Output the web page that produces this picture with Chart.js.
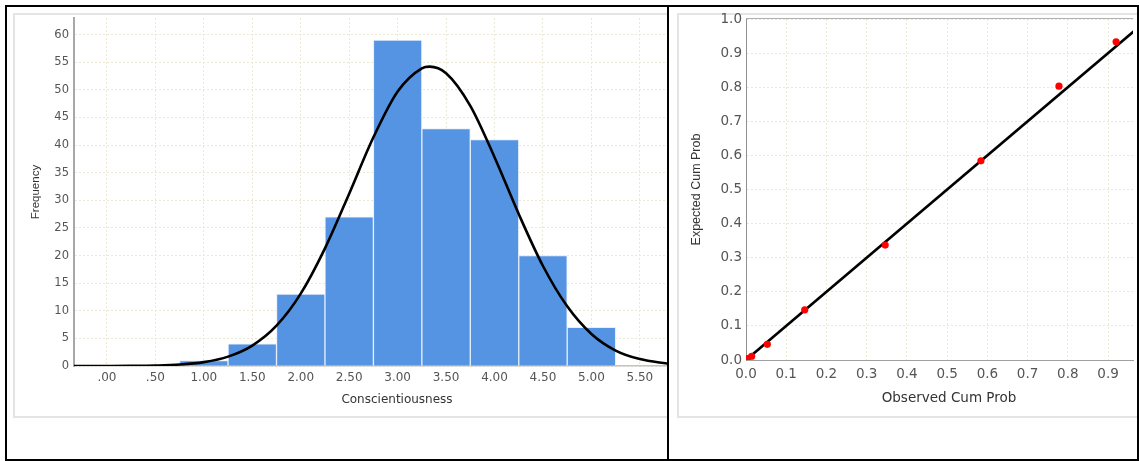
<!DOCTYPE html>
<html>
<head>
<meta charset="utf-8">
<script src="https://cdn.jsdelivr.net/npm/chart.js@4.4.0/dist/chart.umd.min.js"></script>
<style>
    body { margin: 0; background: #fff; width: 1139px; height: 461px; overflow: hidden; position: relative; }
    .frame { position: absolute; left: 5px; top: 5px; width: 1134px; height: 456px; border: 2px solid #000; box-sizing: border-box; }
    .divider { position: absolute; left: 667px; top: 5px; width: 2px; height: 456px; background: #000; }
    .panel { position: absolute; top: 13px; height: 405px; border: 2px solid #e4e4e4; border-right: none; box-sizing: border-box; background: #fff; }
    #leftPanel { left: 13px; width: 654px; }
    #rightPanel { left: 677px; width: 460px; }
    canvas { position: absolute; }
    #histChart { left: 15px; top: 7px; }
    #ppChart { left: 679px; top: 7px; }
</style>
</head>
<body>
<div class="frame"></div>
<div class="divider"></div>
<div class="panel" id="leftPanel"></div>
<div class="panel" id="rightPanel"></div>
<canvas id="histChart" width="652" height="409"></canvas>
<canvas id="ppChart" width="458" height="409"></canvas>

<script>
// Histogram data (bin centres, bin width .50)
const binCenters = [1.0, 1.5, 2.0, 2.5, 3.0, 3.5, 4.0, 4.5, 5.0];
const frequencies = [1, 4, 13, 27, 59, 43, 41, 20, 7];

// Normal curve
const curveX = [-0.35, 0, 0.25, 0.5, 0.75, 1.0, 1.25, 1.5, 1.75, 2.0, 2.25, 2.5, 2.75, 3.0, 3.25, 3.33, 3.5, 3.75, 4.0, 4.25, 4.5, 4.75, 5.0, 5.25, 5.5, 5.8];
const curveY = [0, 0.01, 0.03, 0.09, 0.26, 0.7, 1.7, 3.7, 7.3, 13.1, 21.3, 31.2, 41.4, 49.7, 53.9, 54.2, 53.0, 47.1, 37.8, 27.5, 18.1, 10.8, 5.8, 2.8, 1.25, 0.4];

const histXTicks = [0, 0.5, 1.0, 1.5, 2.0, 2.5, 3.0, 3.5, 4.0, 4.5, 5.0, 5.5];
const histXLabels = ['.00', '.50', '1.00', '1.50', '2.00', '2.50', '3.00', '3.50', '4.00', '4.50', '5.00', '5.50'];
const histYTicks = [0, 5, 10, 15, 20, 25, 30, 35, 40, 45, 50, 55, 60];

// P-P plot data
const ppObserved = [0.004, 0.014, 0.053, 0.146, 0.346, 0.584, 0.778, 0.920];
const ppExpected = [0.004, 0.011, 0.046, 0.147, 0.337, 0.584, 0.803, 0.933];
const refLine = [0, 1];
const ppXTicks = [0, 0.1, 0.2, 0.3, 0.4, 0.5, 0.6, 0.7, 0.8, 0.9];
const ppYTicks = [0, 0.1, 0.2, 0.3, 0.4, 0.5, 0.6, 0.7, 0.8, 0.9, 1.0];

const gridColor = '#ece8d2';
const tickColor = '#555';

function setTicks(values) {
    return function(scale) {
        scale.ticks = values.map(v => ({ value: v }));
    };
}

function fixSize(prop, size) {
    return function(scale) {
        scale[prop] = size;
        scale.paddingTop = 0;
        scale.paddingBottom = 0;
        scale.paddingLeft = 0;
        scale.paddingRight = 0;
    };
}

// x axis title, SPSS puts it a bit right of the plot centre
const xTitle = {
    id: 'xTitle',
    afterDraw(chart, args, opts) {
        const ctx = chart.ctx;
        ctx.save();
        ctx.fillStyle = '#333';
        ctx.font = opts.font;
        ctx.textAlign = 'center';
        ctx.textBaseline = 'middle';
        ctx.fillText(opts.text, opts.x, opts.y);
        ctx.restore();
    }
};

// 1. Histogram
new Chart(document.getElementById('histChart'), {
    type: 'bar',
    data: {
        datasets: [{
            type: 'line',
            data: curveX.map((x, i) => ({ x: x, y: curveY[i] })),
            borderColor: '#000',
            borderWidth: 2.6,
            pointRadius: 0,
            cubicInterpolationMode: 'monotone',
            order: 0
        }, {
            type: 'bar',
            data: binCenters.map((x, i) => ({ x: x, y: frequencies[i] })),
            backgroundColor: '#5594e3',
            borderColor: '#e6eefa',
            borderWidth: 1,
            barPercentage: 1,
            categoryPercentage: 1,
            order: 1
        }]
    },
    options: {
        responsive: false,
        animation: false,
        devicePixelRatio: 1,
        layout: { padding: { top: 11, left: 0, right: 0, bottom: 0 } },
        plugins: {
            legend: { display: false },
            tooltip: { enabled: false },
            xTitle: { text: 'Conscientiousness', x: 382, y: 393, font: '12px "DejaVu Sans"' }
        },
        scales: {
            x: {
                type: 'linear',
                min: -0.34,
                max: 5.78,
                offset: false,
                afterBuildTicks: setTicks(histXTicks),
                afterFit: fixSize('height', 50),
                grid: { color: gridColor, drawTicks: false, offset: false },
                border: { color: '#c4c4c4', width: 1.5, dash: [2, 2] },
                ticks: {
                    padding: 5,
                    color: tickColor,
                    font: { family: 'DejaVu Sans', size: 12 },
                    callback: (v, i) => histXLabels[i]
                }
            },
            y: {
                min: 0,
                max: 63,
                afterBuildTicks: setTicks(histYTicks),
                afterFit: fixSize('width', 59),
                grid: { color: gridColor, drawTicks: false },
                border: { color: '#a8a8a8', width: 2, dash: [2, 2] },
                ticks: {
                    padding: 5,
                    color: tickColor,
                    font: { family: 'DejaVu Sans', size: 11.5 }
                },
                title: {
                    display: true,
                    text: 'Frequency',
                    color: '#333',
                    font: { family: 'Liberation Sans', size: 11.5 },
                    padding: { top: 14, bottom: 0 }
                }
            }
        }
    },
    plugins: [xTitle]
});

// 2. P-P plot
const topLine = {
    id: 'topLine',
    afterDraw(chart) {
        const { ctx, chartArea } = chart;
        ctx.save();
        ctx.strokeStyle = '#b0b0b0';
        ctx.lineWidth = 1;
        ctx.beginPath();
        ctx.moveTo(chartArea.left, chartArea.top - 0.5);
        ctx.lineTo(chartArea.right, chartArea.top - 0.5);
        ctx.stroke();
        ctx.restore();
    }
};

new Chart(document.getElementById('ppChart'), {
    type: 'scatter',
    data: {
        datasets: [{
            data: ppObserved.map((x, i) => ({ x: x, y: ppExpected[i] })),
            backgroundColor: '#ff0000',
            borderWidth: 0,
            pointRadius: 3.6,
            order: 0
        }, {
            data: refLine.map(v => ({ x: v, y: v })),
            showLine: true,
            borderColor: '#000',
            borderWidth: 2.6,
            pointRadius: 0,
            order: 1
        }]
    },
    options: {
        responsive: false,
        animation: false,
        devicePixelRatio: 1,
        layout: { padding: { top: 12, left: 0, right: 0, bottom: 0 } },
        plugins: {
            legend: { display: false },
            tooltip: { enabled: false },
            xTitle: { text: 'Observed Cum Prob', x: 270, y: 391, font: '13.5px "DejaVu Sans"' }
        },
        scales: {
            x: {
                type: 'linear',
                min: 0,
                max: 0.962,
                afterBuildTicks: setTicks(ppXTicks),
                afterFit: fixSize('height', 56),
                grid: { color: gridColor, drawTicks: false },
                border: { color: '#a0a0a0', width: 1, dash: [2, 2] },
                ticks: {
                    padding: 6,
                    color: tickColor,
                    font: { family: 'DejaVu Sans', size: 13.5 },
                    callback: v => v.toFixed(1)
                }
            },
            y: {
                min: 0,
                max: 1.0,
                afterBuildTicks: setTicks(ppYTicks),
                afterFit: fixSize('width', 67),
                grid: { color: gridColor, drawTicks: false },
                border: { color: '#909090', width: 1, dash: [2, 2] },
                ticks: {
                    padding: 4,
                    color: tickColor,
                    font: { family: 'DejaVu Sans', size: 13.5 },
                    callback: v => v.toFixed(1)
                },
                title: {
                    display: true,
                    text: 'Expected Cum Prob',
                    color: '#333',
                    font: { family: 'Liberation Sans', size: 12.5 },
                    padding: { top: 10, bottom: 0 }
                }
            }
        }
    },
    plugins: [topLine, xTitle]
});
</script>
</body>
</html>
